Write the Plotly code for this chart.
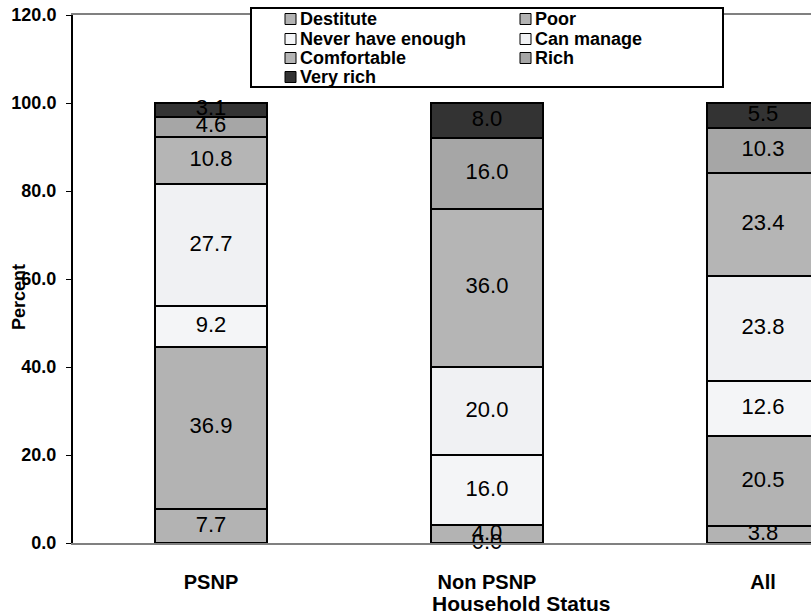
import plotly.graph_objects as go

categories = ["PSNP", "Non PSNP", "All"]
series_names = ["Destitute", "Poor", "Never have enough", "Can manage", "Comfortable", "Rich", "Very rich"]
destitute = [7.7, 4.0, 3.8]
poor = [36.9, 0.0, 20.5]
never_enough = [9.2, 16.0, 12.6]
can_manage = [27.7, 20.0, 23.8]
comfortable = [10.8, 36.0, 23.4]
rich = [4.6, 16.0, 10.3]
very_rich = [3.1, 8.0, 5.5]
y_ticks = [0, 20, 40, 60, 80, 100, 120]

series = [destitute, poor, never_enough, can_manage, comfortable, rich, very_rich]
colors = ["#b3b3b3", "#b3b3b3", "#f4f5f7", "#f0f1f3", "#b5b5b5", "#a6a6a6", "#333333"]

FONT = "Liberation Sans, Arial, sans-serif"
W, H = 811, 615
ML, MR, MT, MB = 73, 0, 15, 72
PW, PH = W - ML - MR, H - MT - MB


def px(xp):
    return (xp - ML) / PW


def py(yp):
    return (H - MB - yp) / PH


fig = go.Figure()
for name, vals, col in zip(series_names, series, colors):
    fig.add_trace(go.Bar(
        x=categories, y=vals, name=name,
        marker=dict(color=col, line=dict(color="black", width=2)),
        width=0.406, showlegend=False,
    ))

# data labels at segment midpoints
lx, ly, lt, lp = [], [], [], []
base = [0.0] * len(categories)
for vals in series:
    for i, v in enumerate(vals):
        lx.append(categories[i])
        if v == 0:
            ly.append(0.0)
            lp.append("middle center")
        else:
            ly.append(base[i] + v / 2)
            lp.append("middle center")
        lt.append(f"{v:.1f}")
        base[i] += v
fig.add_trace(go.Scatter(
    x=lx, y=ly, text=lt, mode="text", textposition=lp,
    textfont=dict(family=FONT, size=22, color="black"),
    showlegend=False, hoverinfo="skip", cliponaxis=False,
))

# legend box (two columns, row-major)
shapes = [dict(type="rect", xref="paper", yref="paper",
               x0=px(251), x1=px(723), y0=py(87), y1=py(8),
               fillcolor="white", line=dict(color="black", width=2), layer="above")]
annotations = []
col_x = [285, 520]
row_y = [19, 39, 58, 77]
for k, (name, col) in enumerate(zip(series_names, colors)):
    r, c = divmod(k, 2)
    sx, sy = col_x[c], row_y[r]
    shapes.append(dict(type="rect", xref="paper", yref="paper",
                       x0=px(sx), x1=px(sx + 11), y0=py(sy + 5.5), y1=py(sy - 5.5),
                       fillcolor=col, line=dict(color="black", width=1), layer="above"))
    annotations.append(dict(text=name, xref="paper", yref="paper",
                            x=px(sx + 13), y=py(sy), xanchor="left", yanchor="middle",
                            showarrow=False,
                            font=dict(family=FONT, size=18, color="black", weight="bold")))

annotations += [
    dict(text="Household Status", xref="paper", yref="paper",
         x=px(521), y=py(603), xanchor="center", yanchor="middle", showarrow=False,
         font=dict(family=FONT, size=21, color="black", weight="bold")),
    dict(text="Percent", xref="paper", yref="paper",
         x=px(19), y=py(297), xanchor="center", yanchor="middle", showarrow=False,
         textangle=-90,
         font=dict(family=FONT, size=18, color="black", weight="bold")),
]

fig.update_layout(
    width=W, height=H,
    margin=dict(l=ML, r=MR, t=MT, b=MB),
    barmode="stack",
    plot_bgcolor="white", paper_bgcolor="white",
    font=dict(family=FONT, color="black"),
    showlegend=False,
    xaxis=dict(
        type="category", range=[-0.5, 2.174],
        showline=True, linecolor="#808080", linewidth=2, mirror=True,
        ticks="", showgrid=False, ticklabelstandoff=20,
        tickfont=dict(family=FONT, size=20, color="black", weight="bold"),
    ),
    yaxis=dict(
        range=[0, 120], tickvals=y_ticks, tickformat=".1f",
        showline=True, linecolor="black", linewidth=2,
        ticks="outside", ticklen=5, tickcolor="black", tickwidth=1,
        ticklabelstandoff=6,
        showgrid=False, zeroline=False,
        tickfont=dict(family=FONT, size=18, color="black", weight="bold"),
    ),
    shapes=shapes,
    annotations=annotations,
)

fig.write_html("out.html")
